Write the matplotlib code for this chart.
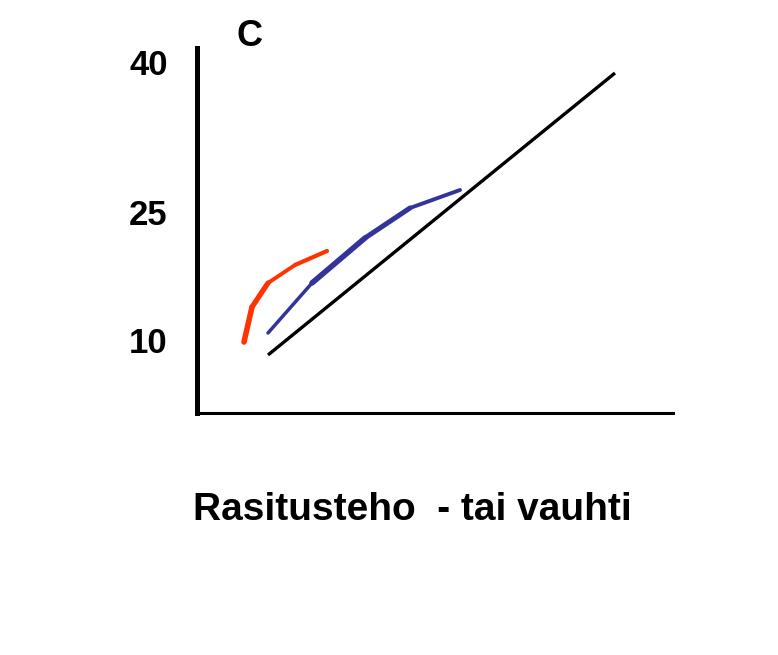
import matplotlib
matplotlib.use("Agg")
import matplotlib.pyplot as plt

# Data (schematic units)
black_x = [7.1, 41.8]
black_y = [10.7, 38.9]
blue_x = [7.1, 11.5, 16.8, 21.3, 26.3]
blue_y = [12.9, 17.9, 22.4, 25.4, 27.2]
red_x = [4.7, 5.5, 7.1, 9.8, 13.0]
red_y = [12.0, 15.5, 17.9, 19.7, 21.1]
tick_pos = [12.2, 25.0, 40.0]
tick_labels = ["10", "25", "40"]
panel_label = "C"
xlabel = "Rasitusteho  - tai vauhti"

red_w = [4.0, 3.8, 2.8, 3.0]
blue_w = [2.5, 4.0, 3.6, 2.8]

W, H = 778, 655
fig = plt.figure(figsize=(W / 100, H / 100), dpi=100)
ax = fig.add_axes([197 / W, (H - 413) / H, 476 / W, 365 / H])
ax.set_xlim(0, 47.6)
ax.set_ylim(4.9, 41.4)

for s in ["top", "right"]:
    ax.spines[s].set_visible(False)
ax.spines["left"].set_linewidth(3.6)
ax.spines["bottom"].set_linewidth(2.2)
ax.set_xticks([])
ax.set_yticks(tick_pos)
ax.set_yticklabels(tick_labels, fontfamily="Liberation Sans", fontweight="bold", fontsize=25)
ax.tick_params(axis="y", length=0, pad=21)

ax.plot(black_x, black_y, color="black", lw=2.4, solid_capstyle="butt")
for i in range(len(blue_x) - 1):
    ax.plot(blue_x[i:i + 2], blue_y[i:i + 2], color="#333399", lw=blue_w[i], solid_capstyle="round")
for i in range(len(red_x) - 1):
    ax.plot(red_x[i:i + 2], red_y[i:i + 2], color="#FF3300", lw=red_w[i], solid_capstyle="round")

ax.text(5.3, 42.5, panel_label, fontfamily="Liberation Sans", fontweight="bold",
        fontsize=26, ha="center", va="center", clip_on=False)
fig.text(412 / W, 1 - 510 / H, xlabel, fontfamily="Liberation Sans", fontweight="bold",
         fontsize=28, ha="center", va="center")

fig.savefig("out.png", dpi=100)
